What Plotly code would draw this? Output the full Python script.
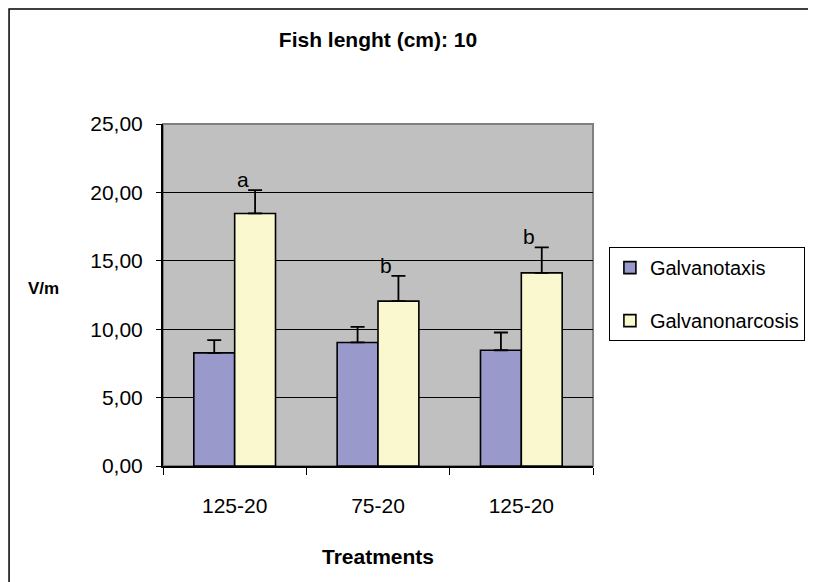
import plotly.graph_objects as go

# values
categories = ["125-20", "75-20", "125-20"]
galvanotaxis = [8.27, 9.03, 8.46]
galvanotaxis_err = [0.93, 1.14, 1.30]
galvanonarcosis = [18.46, 12.05, 14.12]
galvanonarcosis_err = [1.71, 1.85, 1.86]
letters = ["a", "b", "b"]
y_ticks = [0, 5, 10, 15, 20, 25]

# same label shown twice -> make the category keys unique (trailing spaces are not drawn)
keys = [c + " " * i for i, c in enumerate(categories)]

FONT = "Liberation Sans, Arial, sans-serif"

fig = go.Figure()

fig.add_trace(go.Bar(
    x=keys, y=galvanotaxis, name="Galvanotaxis", legendgroup="g1",
    marker=dict(color="#9999CC", line=dict(color="black", width=1.6)),
    error_y=dict(type="data", array=galvanotaxis_err, arrayminus=[0] * 3, symmetric=False,
                 color="black", thickness=1.8, width=7),
))
fig.add_trace(go.Bar(
    x=keys, y=galvanonarcosis, name="Galvanonarcosis", legendgroup="g2",
    marker=dict(color="#FAF8CF", line=dict(color="black", width=1.6)),
    error_y=dict(type="data", array=galvanonarcosis_err, arrayminus=[0] * 3, symmetric=False,
                 color="black", thickness=1.8, width=7),
))

# significance letters over the yellow bars
for k, v, e, t in zip(keys, galvanonarcosis, galvanonarcosis_err, letters):
    fig.add_annotation(x=k, y=v + e, text=t, showarrow=False, xshift=8, yshift=-3,
                       yanchor="bottom", font=dict(family=FONT, size=21, color="black"))

# y title (horizontal) and x title
fig.add_annotation(x=-0.277, y=0.52, xref="paper", yref="paper", text="<b>V/m</b>",
                   xanchor="center", yanchor="middle",
                   showarrow=False, font=dict(family=FONT, size=17, color="black"))
fig.add_annotation(x=0.5, y=-0.266, xref="paper", yref="paper", text="<b>Treatments</b>",
                   xanchor="center", yanchor="middle",
                   showarrow=False, font=dict(family=FONT, size=21, color="black"))

# plot frame (gray top/right) and outer chart frame
fig.add_shape(type="rect", xref="paper", yref="paper", x0=0, x1=1, y0=0, y1=1,
              line=dict(color="#808080", width=2), layer="below")
fig.add_shape(type="rect", xref="paper", yref="paper", x0=-0.358, x1=1.505, y0=-0.4, y1=1.336,
              line=dict(color="black", width=1.5))

fig.update_layout(
    width=808, height=574,
    margin=dict(l=155, r=223, t=116, b=116, autoexpand=False),
    paper_bgcolor="white",
    plot_bgcolor="#C0C0C0",
    separators=",.",
    barmode="group",
    bargap=0.43,
    bargroupgap=0,
    title=dict(text="<b>Fish lenght (cm): 10</b>", x=0.5, xref="paper", y=1 - 32 / 574,
               yref="container", xanchor="center", yanchor="middle",
               font=dict(family=FONT, size=21, color="black")),
    font=dict(family=FONT, size=21, color="black"),
    legend=dict(x=1.037, y=0.64, xanchor="left", yanchor="top", bgcolor="white",
                bordercolor="black", borderwidth=1, traceorder="grouped", tracegroupgap=24,
                font=dict(family=FONT, size=20, color="black")),
    showlegend=True,
)

fig.update_xaxes(
    tickson="boundaries", ticks="outside", ticklen=7, tickcolor="black",
    tickvals=keys, ticktext=categories, ticklabelstandoff=20,
    showline=True, linecolor="black", linewidth=1.5, showgrid=False,
    tickfont=dict(family=FONT, size=21, color="black"),
)
fig.update_yaxes(
    range=[0, 25], tickvals=y_ticks, tickformat=".2f",
    ticks="outside", ticklen=5, tickcolor="black", ticklabelstandoff=9,
    showline=True, linecolor="black", linewidth=2,
    showgrid=True, gridcolor="black", gridwidth=1, zeroline=False,
    tickfont=dict(family=FONT, size=21, color="black"),
)

fig.write_html("out.html")
